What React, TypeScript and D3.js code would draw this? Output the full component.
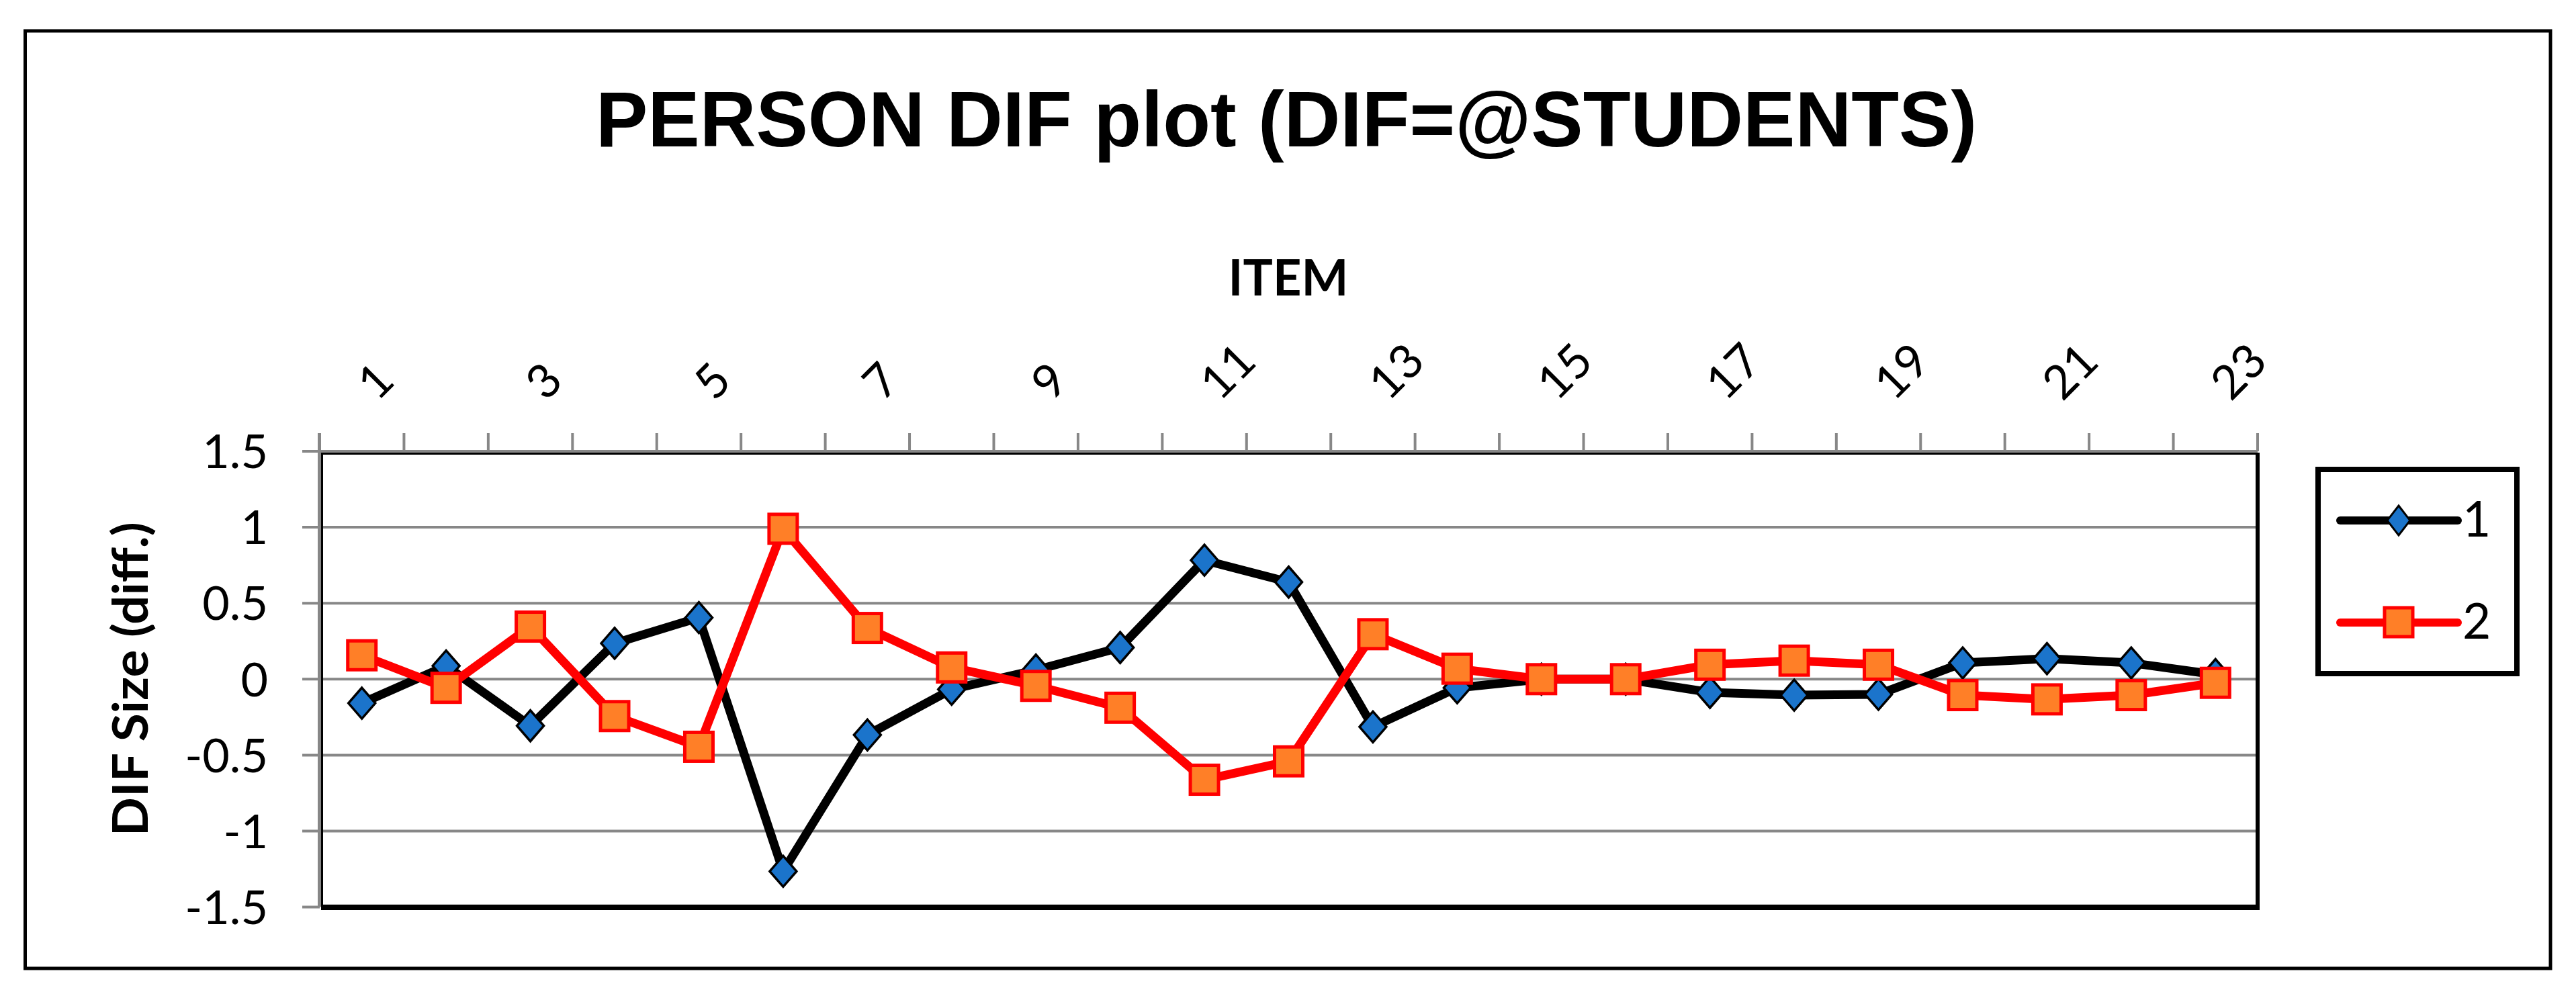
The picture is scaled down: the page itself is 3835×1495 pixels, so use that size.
import React from "react";
import * as d3 from "d3";

const items: string[] = Array.from({ length: 23 }, (_, i) => String(i + 1));
const series1: number[] = [-0.158, 0.087, -0.307, 0.236, 0.405, -1.265, -0.367, -0.067, 0.06, 0.208, 0.783, 0.639, -0.314, -0.057, 0, 0, -0.087, -0.105, -0.1, 0.107, 0.135, 0.107, 0.03];
const series2: number[] = [0.157, -0.057, 0.346, -0.243, -0.445, 0.99, 0.337, 0.077, -0.044, -0.188, -0.662, -0.541, 0.296, 0.069, 0, 0, 0.095, 0.122, 0.095, -0.105, -0.133, -0.105, -0.024];
const yTicks: number[] = [1.5, 1, 0.5, 0, -0.5, -1, -1.5];
const seriesNames: string[] = ["1", "2"];

const W = 3835;
const H = 1495;
const GRID = "#878787";
const BLUE = "#1b74cb";
const ORANGE = "#ff7f27";
const RED = "#ff0000";
const LABEL_FONT = "Lato, 'Open Sans', sans-serif";

export default function App() {
  const plotL = 476;
  const plotR = 3361;
  const plotT = 672;
  const plotB = 1350.6;

  const x = d3.scaleBand<string>().domain(items).range([plotL, plotR]).padding(0);
  const y = d3.scaleLinear().domain([-1.5, 1.5]).range([plotB, plotT]);
  const cx = (d: string) => (x(d) as number) + x.bandwidth() / 2;

  const line = d3
    .line<number>()
    .x((_, i) => cx(items[i]))
    .y((v) => y(v));

  const boundaries = d3.range(items.length + 1).map((k) => plotL + k * x.bandwidth());

  const diamond = (px: number, py: number, hw: number, hh: number) =>
    `M${px},${py - hh}L${px + hw},${py}L${px},${py + hh}L${px - hw},${py}Z`;

  return (
    <svg
      width={W}
      height={H}
      viewBox={`0 0 ${W} ${H}`}
      style={{ position: "absolute", left: 0, top: 0, background: "#fff" }}
    >
      <rect x={0} y={0} width={W} height={H} fill="#fff" />
      {/* outer frame */}
      <rect x={37.5} y={46} width={3797 - 37.5} height={1442 - 46} fill="none" stroke="#000" strokeWidth={5} />

      {/* title */}
      <text
        x={1915}
        y={218}
        textAnchor="middle"
        fontFamily="'Liberation Sans', Arial, sans-serif"
        fontWeight="bold"
        fontSize={116}
        fill="#000"
      >
        PERSON DIF plot (DIF=@STUDENTS)
      </text>

      {/* x axis title */}
      <text x={1918} y={440} textAnchor="middle" fontFamily={LABEL_FONT} fontWeight="bold" fontSize={74} fill="#000">
        ITEM
      </text>

      {/* y axis title */}
      <text
        transform={`translate(220, ${(plotT + plotB) / 2}) rotate(-90)`}
        textAnchor="middle"
        fontFamily={LABEL_FONT}
        fontWeight="bold"
        fontSize={72}
        textLength={468}
        lengthAdjust="spacingAndGlyphs"
        fill="#000"
      >
        DIF Size (diff.)
      </text>

      {/* gridlines */}
      {yTicks.map((t) => (
        <line key={"g" + t} x1={450} x2={t === 1.5 ? plotR : t === -1.5 ? plotL : plotR - 3} y1={y(t)} y2={y(t)} stroke={GRID} strokeWidth={4} />
      ))}

      {/* y axis line */}
      <line x1={475.5} x2={475.5} y1={645} y2={plotB} stroke={GRID} strokeWidth={5} />

      {/* x ticks (top) */}
      {boundaries.map((bx, k) => (
        <line key={"xt" + k} x1={bx} x2={bx} y1={645} y2={plotT} stroke={GRID} strokeWidth={4} />
      ))}

      {/* plot area border */}
      <line x1={479.5} x2={plotR} y1={675.5} y2={675.5} stroke="#000" strokeWidth={3} />
      <line x1={479.5} x2={479.5} y1={674} y2={1351} stroke="#000" strokeWidth={3} />
      <line x1={478} x2={3364} y1={1351} y2={1351} stroke="#000" strokeWidth={8} />
      <line x1={plotR} x2={plotR} y1={674} y2={1355} stroke="#000" strokeWidth={6} />

      {/* y tick labels */}
      {yTicks.map((t) => (
        <text
          key={"yl" + t}
          x={399}
          y={y(t)}
          dy="0.36em"
          textAnchor="end"
          fontFamily={LABEL_FONT}
          fontSize={70}
          fill="#000"
        >
          {String(t)}
        </text>
      ))}

      {/* x tick labels */}
      {items.map((d, i) =>
        i % 2 === 0 ? (
          <text
            key={"xl" + d}
            transform={`translate(${cx(d) + 23}, 599) rotate(-45)`}
            textAnchor="start"
            fontFamily={LABEL_FONT}
            fontSize={70}
            fill="#000"
          >
            {d}
          </text>
        ) : null
      )}

      {/* series 1 */}
      <path d={line(series1) || ""} fill="none" stroke="#000" strokeWidth={13} strokeLinejoin="round" strokeLinecap="round" />
      {series1.map((v, i) => (
        <path key={"d" + i} d={diamond(cx(items[i]), y(v), 20, 23)} fill={BLUE} stroke="#000" strokeWidth={3.5} />
      ))}

      {/* series 2 */}
      <path d={line(series2) || ""} fill="none" stroke={RED} strokeWidth={13} strokeLinejoin="round" strokeLinecap="round" />
      {series2.map((v, i) => (
        <rect key={"s" + i} x={cx(items[i]) - 21} y={y(v) - 21.5} width={42} height={43} fill={ORANGE} stroke={RED} strokeWidth={5} />
      ))}

      {/* legend */}
      <rect x={3451} y={699} width={296} height={304} fill="#fff" stroke="#000" strokeWidth={8} />
      <line x1={3484} x2={3659} y1={775} y2={775} stroke="#000" strokeWidth={12} strokeLinecap="round" />
      <path d={diamond(3571, 775, 17, 22)} fill={BLUE} stroke="#000" strokeWidth={3} />
      <text x={3666} y={798.5} fontFamily={LABEL_FONT} fontSize={73} fill="#000">
        {seriesNames[0]}
      </text>
      <line x1={3484} x2={3659} y1={927} y2={927} stroke={RED} strokeWidth={12} strokeLinecap="round" />
      <rect x={3550} y={905} width={42} height={43} fill={ORANGE} stroke={RED} strokeWidth={5} />
      <text x={3666} y={951} fontFamily={LABEL_FONT} fontSize={73} fill="#000">
        {seriesNames[1]}
      </text>
    </svg>
  );
}
